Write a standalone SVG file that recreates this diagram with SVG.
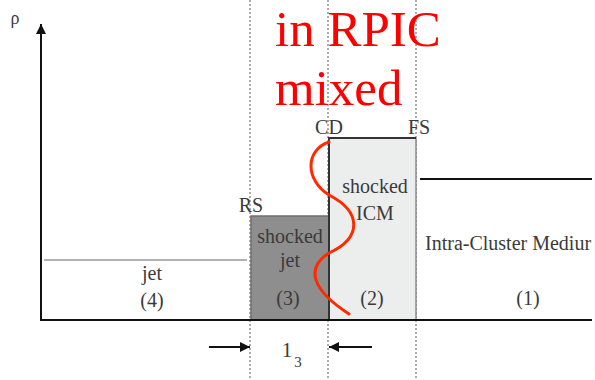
<svg xmlns="http://www.w3.org/2000/svg" width="595" height="380" viewBox="0 0 595 380">
<defs>
<style>
.t{font-family:"Liberation Serif","Times New Roman",serif;fill:#3a3a3a;text-anchor:middle;font-size:20px}
.red{font-family:"Liberation Serif","Times New Roman",serif;fill:#ff0000;font-size:51px}
.dot{stroke:#777;stroke-width:1.2;stroke-dasharray:2,2;fill:none}
.ax{stroke:#111;stroke-width:2;fill:none}
</style>
<marker id="ah" viewBox="0 0 10 10" refX="10" refY="5" markerWidth="10" markerHeight="11" orient="auto-start-reverse" markerUnits="userSpaceOnUse">
<path d="M0,0 L10,5 L0,10 Z" fill="#111"/>
</marker>
</defs>
<rect width="595" height="380" fill="#fff"/>
<g id="guides">
<line class="dot" x1="250" y1="0" x2="250" y2="380"/>
<line class="dot" x1="328" y1="0" x2="328" y2="380"/>
<line class="dot" x1="416" y1="0" x2="416" y2="380"/>
</g>
<g id="region3">
<rect x="251" y="216" width="78" height="104" fill="#8e8e8e" stroke="#6e6e6e" stroke-width="1.5"/>
<text class="t" x="290" y="243">shocked</text>
<text class="t" x="290" y="267">jet</text>
<text class="t" x="288" y="305">(3)</text>
</g>
<g id="region2">
<rect x="329" y="138" width="87" height="182" fill="#eceeee"/>
<line x1="416" y1="138" x2="416" y2="320" stroke="#8a8a8a" stroke-width="1.5"/>
<line x1="329" y1="138" x2="416" y2="138" stroke="#333" stroke-width="2"/>
<line x1="329" y1="137" x2="329" y2="320" stroke="#333" stroke-width="2"/>
<text class="t" x="375" y="193">shocked</text>
<text class="t" x="375" y="220">ICM</text>
<text class="t" x="372" y="305">(2)</text>
</g>
<g id="region4">
<line x1="44" y1="260" x2="247" y2="260" stroke="#999" stroke-width="1.5"/>
<text class="t" x="152" y="280">jet</text>
<text class="t" x="152" y="307">(4)</text>
</g>
<g id="region1">
<line x1="420" y1="179" x2="592" y2="179" stroke="#111" stroke-width="2"/>
<text class="t" x="425" y="250" style="text-anchor:start">Intra-Cluster Mediur</text>
<text class="t" x="528" y="305">(1)</text>
</g>
<g id="axes">
<line class="ax" x1="41" y1="320" x2="41" y2="24" marker-end="url(#ah)"/>
<line class="ax" x1="40" y1="320" x2="592" y2="320"/>
<text class="t" x="15" y="24" style="font-size:18px">ρ</text>
</g>
<g id="labels">
<text class="t" x="251" y="212">RS</text>
<text class="t" x="329" y="134">CD</text>
<text class="t" x="419" y="134">FS</text>
</g>
<g id="connectors">
<line class="ax" x1="209" y1="347" x2="250" y2="347" marker-end="url(#ah)"/>
<line class="ax" x1="372" y1="347" x2="329" y2="347" marker-end="url(#ah)"/>
</g>
<g id="width-label">
<text class="t" x="287" y="357" style="font-size:21px">1</text>
<text class="t" x="298" y="367" style="font-size:15px">3</text>
</g>
<g id="mix">
<path d="M329,142 C305,150 305,180 329,195 C362,212 362,238 329,253 C305,268 312,290 349,314" fill="none" stroke="#ff2a00" stroke-width="3" stroke-linecap="round"/>
<text class="red" x="275" y="46">in RPIC</text>
<text class="red" x="275" y="105">mixed</text>
</g>
</svg>
